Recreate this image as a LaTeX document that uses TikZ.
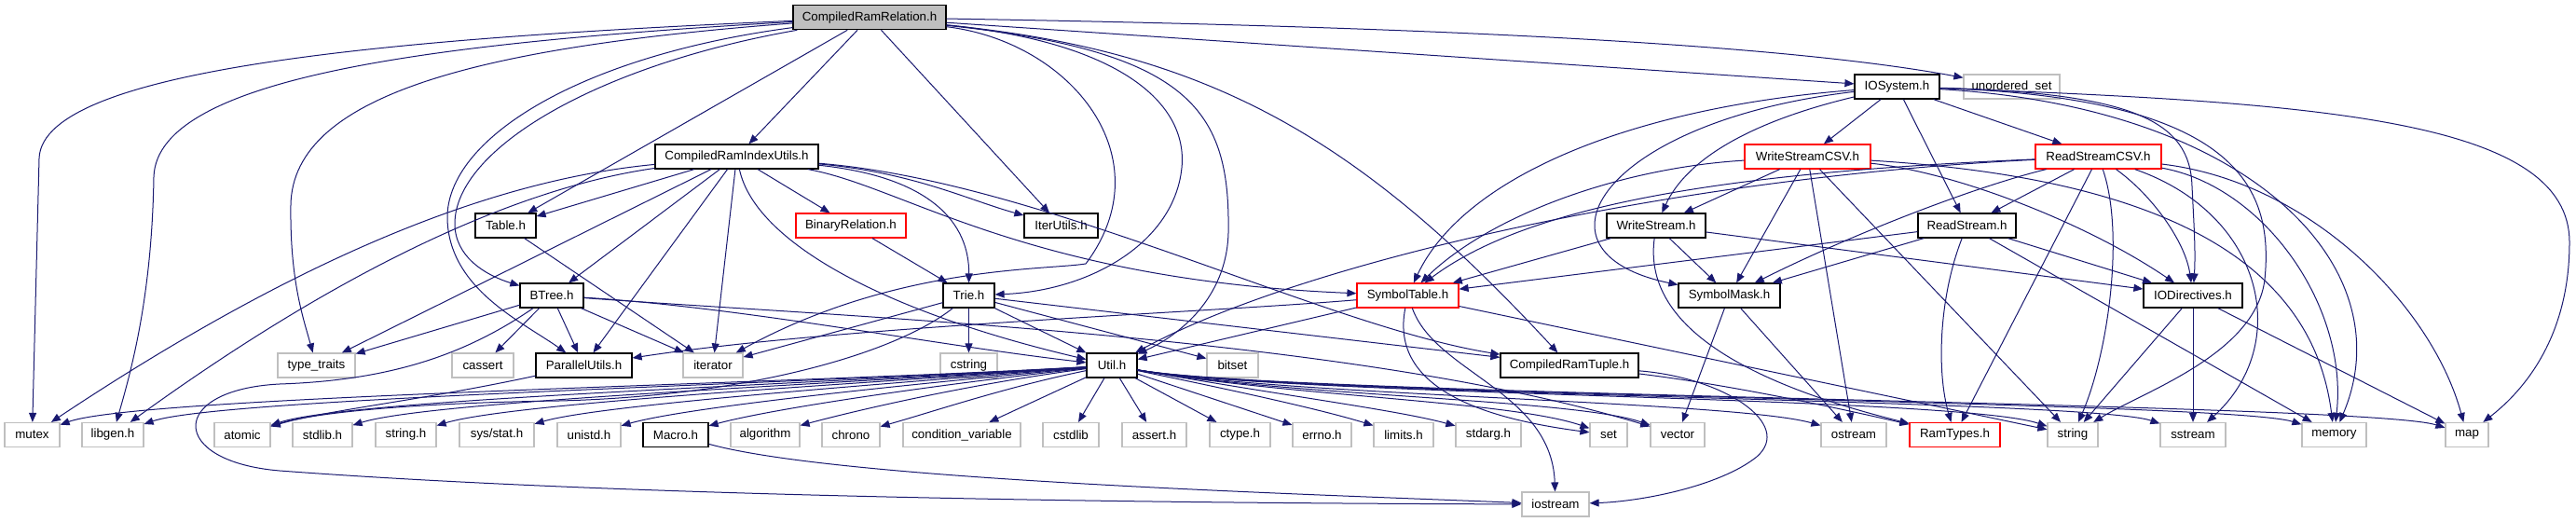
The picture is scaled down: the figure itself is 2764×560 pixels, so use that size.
\documentclass[tikz,border=0pt]{standalone}
\usepackage{fontspec}
\setmainfont{Liberation Sans}
\usetikzlibrary{arrows.meta}

\definecolor{edgeblue}{HTML}{191970}
\definecolor{sysgray}{HTML}{BFBFBF}

\begin{document}
\begin{tikzpicture}[
        x=0.75pt, y=-0.75pt,
        box/.style={rectangle, inner sep=0pt, minimum height=19.5pt, fill=white, font=\fontsize{10pt}{12pt}\selectfont},
        hdr/.style={box, draw=black, line width=0.9pt},
        hdrtrunc/.style={box, draw=red, line width=0.9pt},
        syshdr/.style={box, draw=sysgray, line width=0.9pt},
        rootbox/.style={box, draw=black, line width=0.9pt, fill=sysgray},
        arrow/.style={-{Triangle[length=7.5pt, width=6pt]}, draw=edgeblue, line width=0.75pt}
    ]
    \useasboundingbox (0,0) rectangle (2764,560);
    \fill[white] (0,0) rectangle (2764,560);

    % Root
    \node[rootbox, minimum width=123pt] (crr) at (933,18.7) {CompiledRamRelation.h};

    % Project headers
    \node[hdr, minimum width=68.25pt] (ios) at (2035.5,93) {IOSystem.h};
    \node[hdr, minimum width=131.25pt] (ciu) at (790.5,168) {CompiledRamIndexUtils.h};
    \node[hdrtrunc, minimum width=101.25pt] (wcsv) at (1939.5,168) {WriteStreamCSV.h};
    \node[hdrtrunc, minimum width=101.25pt] (rcsv) at (2251.5,168) {ReadStreamCSV.h};
    \node[hdr, minimum width=48.75pt] (table) at (542.5,242) {Table.h};
    \node[hdrtrunc, minimum width=88.5pt] (binrel) at (913,242) {BinaryRelation.h};
    \node[hdr, minimum width=59.25pt] (iterutils) at (1138.5,242) {IterUtils.h};
    \node[hdr, minimum width=79.5pt] (wstream) at (1777,242) {WriteStream.h};
    \node[hdr, minimum width=78.75pt] (rstream) at (2110.5,242) {ReadStream.h};
    \node[hdr, minimum width=51pt] (btree) at (592,317) {BTree.h};
    \node[hdr, minimum width=41.25pt] (trie) at (1039.5,317) {Trie.h};
    \node[hdrtrunc, minimum width=81.75pt] (symtab) at (1510.5,317) {SymbolTable.h};
    \node[hdr, minimum width=81.75pt] (symmask) at (1855.5,317) {SymbolMask.h};
    \node[hdr, minimum width=79.5pt] (iodir) at (2353,317) {IODirectives.h};
    \node[hdr, minimum width=77.25pt] (parallel) at (626.5,392) {ParallelUtils.h};
    \node[hdr, minimum width=40.5pt] (util) at (1193,392) {Util.h};
    \node[hdr, minimum width=111pt] (tuple) at (1684,392) {CompiledRamTuple.h};
    \node[hdr, minimum width=52.5pt] (macro) at (725,466.5) {Macro.h};
    \node[hdrtrunc, minimum width=72.75pt] (ramtypes) at (2097.5,466.5) {RamTypes.h};

    % System headers
    \node[syshdr, minimum width=77.25pt] (uset) at (2158.5,93) {unordered\_set};
    \node[syshdr, minimum width=62.25pt] (typetr) at (339.5,392) {type\_traits};
    \node[syshdr, minimum width=49.5pt] (cassert) at (518,392) {cassert};
    \node[syshdr, minimum width=48pt] (iterator) at (765,392) {iterator};
    \node[syshdr, minimum width=45.75pt] (cstring) at (1039.5,392) {cstring};
    \node[syshdr, minimum width=41.25pt] (bitset) at (1322.5,392) {bitset};
    \node[syshdr, minimum width=44.25pt] (mutex) at (34.5,466.5) {mutex};
    \node[syshdr, minimum width=49.5pt] (libgen) at (121,466.5) {libgen.h};
    \node[syshdr, minimum width=45pt] (atomic) at (260,466.5) {atomic};
    \node[syshdr, minimum width=48pt] (stdlib) at (346,466.5) {stdlib.h};
    \node[syshdr, minimum width=48.75pt] (stringh) at (435.5,466.5) {string.h};
    \node[syshdr, minimum width=60pt] (sysstat) at (533,466.5) {sys/stat.h};
    \node[syshdr, minimum width=51pt] (unistd) at (632,466.5) {unistd.h};
    \node[syshdr, minimum width=55.5pt] (algorithm) at (821,466.5) {algorithm};
    \node[syshdr, minimum width=46.5pt] (chrono) at (913,466.5) {chrono};
    \node[syshdr, minimum width=94.5pt] (condvar) at (1032,466.5) {condition\_variable};
    \node[syshdr, minimum width=45pt] (cstdlib) at (1149,466.5) {cstdlib};
    \node[syshdr, minimum width=51.75pt] (asserth) at (1238.5,466.5) {assert.h};
    \node[syshdr, minimum width=48.75pt] (ctype) at (1330.5,466.5) {ctype.h};
    \node[syshdr, minimum width=47.25pt] (errno) at (1418.5,466.5) {errno.h};
    \node[syshdr, minimum width=48pt] (limits) at (1506,466.5) {limits.h};
    \node[syshdr, minimum width=52.5pt] (stdarg) at (1597,466.5) {stdarg.h};
    \node[syshdr, minimum width=30pt] (set) at (1726,466.5) {set};
    \node[syshdr, minimum width=43.5pt] (vector) at (1800,466.5) {vector};
    \node[syshdr, minimum width=52.5pt] (ostream) at (1989,466.5) {ostream};
    \node[syshdr, minimum width=40.5pt] (string) at (2224,466.5) {string};
    \node[syshdr, minimum width=52.5pt] (sstream) at (2353,466.5) {sstream};
    \node[syshdr, minimum width=51.75pt] (memory) at (2504.5,466.5) {memory};
    \node[syshdr, minimum width=34.5pt] (map) at (2647,466.5) {map};
    \node[syshdr, minimum width=54pt] (iostream) at (1669,541) {iostream};

    % CompiledRamRelation.h
    \draw[arrow] (crr) .. controls (450,40) and (45,70) .. (42,170) -- (mutex);
    \draw[arrow] (crr) .. controls (480,45) and (168,80) .. (165,190) .. controls (163,320) and (140,400) .. (libgen);
    \draw[arrow] (crr) .. controls (520,50) and (314,100) .. (312,220) .. controls (311,300) and (325,340) .. (typetr);
    \draw[arrow] (crr) .. controls (640,70) and (488,160) .. (488,240) .. controls (488,275) and (520,295) .. (btree);
    \draw[arrow] (crr) .. controls (620,60) and (478,150) .. (480,235) .. controls (482,310) and (560,345) .. (parallel);
    \draw[arrow] (crr) -- (table);
    \draw[arrow] (crr) -- (ciu);
    \draw[arrow] (crr) -- (iterutils);
    \draw[arrow] (crr) .. controls (1150,45) and (1250,170) .. (1165,283) .. controls (1120,290) and (960,285) .. (iterator);
    \draw[arrow] (crr) .. controls (1200,45) and (1275,110) .. (1268,180) .. controls (1260,260) and (1170,312) .. (trie);
    \draw[arrow] (crr) .. controls (1280,55) and (1320,120) .. (1318,250) .. controls (1316,320) and (1265,360) .. (util);
    \draw[arrow] (crr) .. controls (1300,55) and (1460,150) .. (tuple);
    \draw[arrow] (crr) -- (ios);
    \draw[arrow] (crr) .. controls (1500,28) and (1900,45) .. (uset);

    % CompiledRamIndexUtils.h
    \draw[arrow] (ciu) .. controls (560,190) and (360,250) .. (mutex);
    \draw[arrow] (ciu) .. controls (600,195) and (420,250) .. (libgen);
    \draw[arrow] (ciu) -- (table);
    \draw[arrow] (ciu) -- (typetr);
    \draw[arrow] (ciu) -- (btree);
    \draw[arrow] (ciu) -- (parallel);
    \draw[arrow] (ciu) -- (iterator);
    \draw[arrow] (ciu) .. controls (810,260) and (950,335) .. (util);
    \draw[arrow] (ciu) -- (binrel);
    \draw[arrow] (ciu) .. controls (1000,190) and (1040,240) .. (trie);
    \draw[arrow] (ciu) .. controls (980,185) and (1040,215) .. (iterutils);
    \draw[arrow] (ciu) .. controls (970,200) and (1100,300) .. (symtab);
    \draw[arrow] (ciu) .. controls (1120,195) and (1420,350) .. (tuple);

    % Table.h, BinaryRelation.h, ParallelUtils.h, Macro.h
    \draw[arrow] (table) -- (iterator);
    \draw[arrow] (binrel) -- (trie);
    \draw[arrow] (parallel) .. controls (450,430) and (350,440) .. (atomic);
    \draw[arrow] (macro) .. controls (900,515) and (1400,530) .. (iostream);

    % BTree.h
    \draw[arrow] (btree) -- (typetr);
    \draw[arrow] (btree) -- (cassert);
    \draw[arrow] (btree) -- (parallel);
    \draw[arrow] (btree) -- (iterator);
    \draw[arrow] (btree) .. controls (800,330) and (1000,370) .. (util);
    \draw[arrow] (btree) .. controls (900,340) and (1450,360) .. (vector);
    \draw[arrow] (btree) .. controls (500,380) and (420,408) .. (300,412) .. controls (180,418) and (180,495) .. (300,505) .. controls (700,535) and (1300,540) .. (iostream);

    % Trie.h
    \draw[arrow] (trie) -- (cstring);
    \draw[arrow] (trie) -- (util);
    \draw[arrow] (trie) -- (bitset);
    \draw[arrow] (trie) -- (tuple);
    \draw[arrow] (trie) -- (iterator);
    \draw[arrow] (trie) .. controls (960,380) and (800,425) .. (600,430) .. controls (450,432) and (340,442) .. (atomic);

    % SymbolTable.h
    \draw[arrow] (symtab) -- (util);
    \draw[arrow] (symtab) .. controls (1300,335) and (900,350) .. (parallel);
    \draw[arrow] (symtab) .. controls (1490,420) and (1600,450) .. (set);
    \draw[arrow] (symtab) .. controls (1540,400) and (1665,420) .. (iostream);
    \draw[arrow] (symtab) -- (string);

    % SymbolMask.h, CompiledRamTuple.h
    \draw[arrow] (symmask) -- (vector);
    \draw[arrow] (symmask) -- (ostream);
    \draw[arrow] (tuple) .. controls (1850,405) and (1925,455) .. (1885,490) .. controls (1845,522) and (1760,538) .. (iostream);
    \draw[arrow] (tuple) .. controls (1850,412) and (1960,435) .. (ramtypes);

    % IOSystem.h
    \draw[arrow] (ios) -- (wcsv);
    \draw[arrow] (ios) -- (rcsv);
    \draw[arrow] (ios) -- (rstream);
    \draw[arrow] (ios) .. controls (1880,130) and (1810,170) .. (wstream);
    \draw[arrow] (ios) .. controls (1750,115) and (1570,190) .. (symtab);
    \draw[arrow] (ios) .. controls (1720,130) and (1630,270) .. (symmask);
    \draw[arrow] (ios) .. controls (2290,100) and (2350,130) .. (2352,200) .. controls (2354,240) and (2356,270) .. (iodir);
    \draw[arrow] (ios) .. controls (2400,105) and (2440,200) .. (2430,300) .. controls (2420,380) and (2300,420) .. (string);
    \draw[arrow] (ios) .. controls (2420,115) and (2580,290) .. (memory);
    \draw[arrow] (ios) .. controls (2500,110) and (2757,130) .. (2757,260) .. controls (2757,370) and (2700,425) .. (map);

    % WriteStreamCSV.h
    \draw[arrow] (wcsv) .. controls (1740,180) and (1600,230) .. (symtab);
    \draw[arrow] (wcsv) -- (wstream);
    \draw[arrow] (wcsv) -- (symmask);
    \draw[arrow] (wcsv) -- (ostream);
    \draw[arrow] (wcsv) -- (string);
    \draw[arrow] (wcsv) .. controls (2100,185) and (2240,240) .. (iodir);
    \draw[arrow] (wcsv) .. controls (2300,190) and (2480,270) .. (memory);

    % ReadStreamCSV.h
    \draw[arrow] (rcsv) .. controls (1850,185) and (1640,220) .. (symtab);
    \draw[arrow] (rcsv) .. controls (1800,190) and (1400,280) .. (util);
    \draw[arrow] (rcsv) -- (rstream);
    \draw[arrow] (rcsv) .. controls (2120,200) and (1990,250) .. (symmask);
    \draw[arrow] (rcsv) -- (ramtypes);
    \draw[arrow] (rcsv) .. controls (2280,250) and (2262,380) .. (string);
    \draw[arrow] (rcsv) .. controls (2310,210) and (2345,260) .. (iodir);
    \draw[arrow] (rcsv) .. controls (2430,230) and (2460,370) .. (sstream);
    \draw[arrow] (rcsv) .. controls (2430,200) and (2520,330) .. (memory);
    \draw[arrow] (rcsv) .. controls (2480,195) and (2610,330) .. (map);

    % WriteStream.h
    \draw[arrow] (wstream) -- (symtab);
    \draw[arrow] (wstream) -- (symmask);
    \draw[arrow] (wstream) .. controls (1765,330) and (1830,400) .. (ramtypes);
    \draw[arrow] (wstream) -- (iodir);

    % ReadStream.h
    \draw[arrow] (rstream) -- (symtab);
    \draw[arrow] (rstream) -- (symmask);
    \draw[arrow] (rstream) -- (iodir);
    \draw[arrow] (rstream) .. controls (2080,320) and (2078,400) .. (ramtypes);
    \draw[arrow] (rstream) -- (memory);

    % IODirectives.h
    \draw[arrow] (iodir) -- (string);
    \draw[arrow] (iodir) -- (sstream);
    \draw[arrow] (iodir) -- (map);

    % Util.h
    \draw[arrow] (util) .. controls (850,412) and (150,425) .. (mutex);
    \draw[arrow] (util) .. controls (860,412) and (236,427) .. (libgen);
    \draw[arrow] (util) .. controls (880,412) and (375,428) .. (atomic);
    \draw[arrow] (util) .. controls (900,412) and (461,430) .. (stdlib);
    \draw[arrow] (util) .. controls (920,412) and (550,432) .. (stringh);
    \draw[arrow] (util) .. controls (950,412) and (645,434) .. (sysstat);
    \draw[arrow] (util) .. controls (980,412) and (740,436) .. (unistd);
    \draw[arrow] (util) .. controls (1010,412) and (830,438) .. (macro);
    \draw[arrow] (util) .. controls (1040,412) and (920,440) .. (algorithm);
    \draw[arrow] (util) .. controls (1080,415) and (1000,442) .. (chrono);
    \draw[arrow] (util) -- (condvar);
    \draw[arrow] (util) -- (cstdlib);
    \draw[arrow] (util) -- (asserth);
    \draw[arrow] (util) -- (ctype);
    \draw[arrow] (util) -- (errno);
    \draw[arrow] (util) .. controls (1330,420) and (1420,440) .. (limits);
    \draw[arrow] (util) .. controls (1380,425) and (1500,440) .. (stdarg);
    \draw[arrow] (util) .. controls (1380,425) and (1620,430) .. (set);
    \draw[arrow] (util) .. controls (1380,425) and (1690,428) .. (vector);
    \draw[arrow] (util) .. controls (1380,425) and (1860,430) .. (ostream);
    \draw[arrow] (util) .. controls (1380,425) and (2100,425) .. (string);
    \draw[arrow] (util) .. controls (1380,425) and (2240,428) .. (sstream);
    \draw[arrow] (util) .. controls (1380,425) and (2390,430) .. (memory);
    \draw[arrow] (util) .. controls (1380,425) and (2540,432) .. (map);
\end{tikzpicture}
\end{document}
